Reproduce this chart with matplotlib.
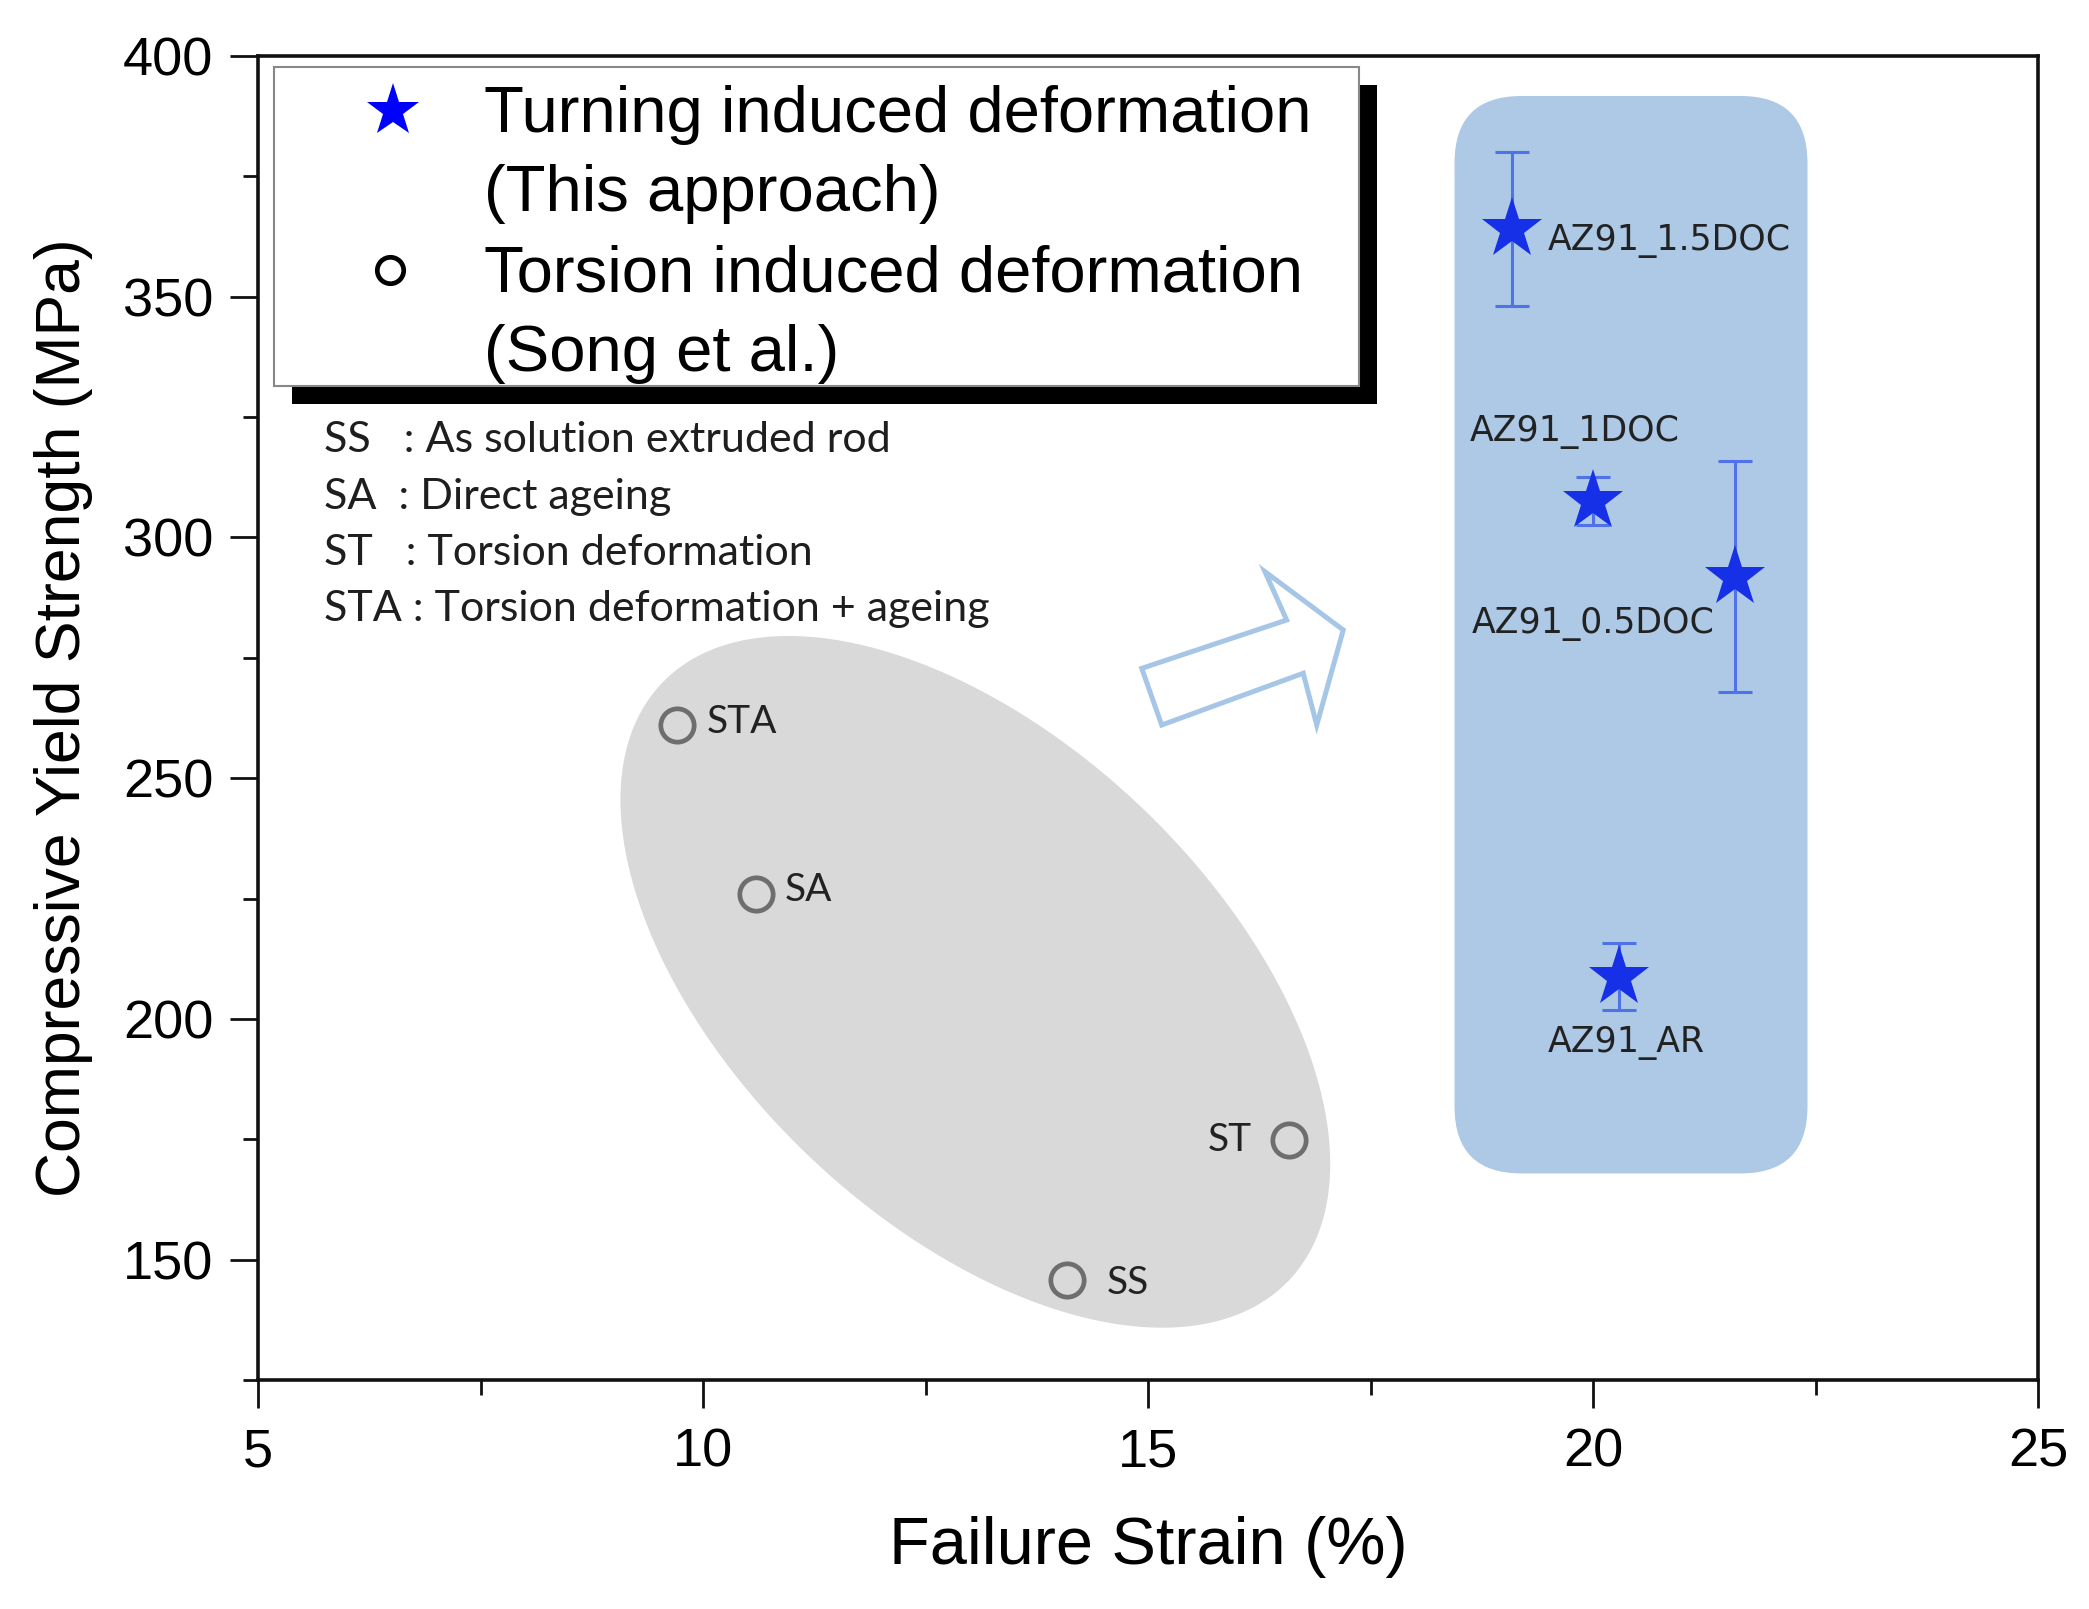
import numpy as np
import matplotlib
matplotlib.use("Agg")
import matplotlib.pyplot as plt
from matplotlib.patches import Polygon, Rectangle, FancyBboxPatch

# ---------------- data ----------------
turn_labels = ["AZ91_1.5DOC", "AZ91_1DOC", "AZ91_0.5DOC", "AZ91_AR"]
turn_strain = [19.09, 20.00, 21.59, 20.29]
turn_ys = [364.0, 307.6, 291.8, 208.8]
turn_err = [16.0, 5.0, 24.0, 7.0]
turn_label_xy = [(19.49, 361.6), (18.61, 322.0), (18.64, 282.1), (19.49, 195.0)]

tor_labels = ["STA", "SA", "ST", "SS"]
tor_strain = [9.71, 10.59, 16.58, 14.09]
tor_ys = [261.0, 225.9, 174.9, 145.8]
tor_label_xy = [(10.04, 261.7), (10.92, 226.8), (16.17, 174.8), (14.54, 145.1)]
tor_label_ha = ["left", "left", "right", "left"]

xticks = [5, 10, 15, 20, 25]
yticks = [150, 200, 250, 300, 350, 400]

legend_lines = ["Turning induced deformation", "(This approach)",
                "Torsion induced deformation", "(Song et al.)"]
key_lines = ["SS   : As solution extruded rod", "SA  : Direct ageing",
             "ST   : Torsion deformation", "STA : Torsion deformation + ageing"]

# ---------------- figure ----------------
W, H = 2089, 1609
fig = plt.figure(figsize=(W / 100, H / 100), dpi=100)
ax_l, ax_r, ax_t, ax_b = 258, 2038, 56, 1380
ax = fig.add_axes([ax_l / W, 1 - ax_b / H, (ax_r - ax_l) / W, (ax_b - ax_t) / H])
xmin, xmax, ymin, ymax = 5, 25, 125, 400
ax.set_xlim(xmin, xmax)
ax.set_ylim(ymin, ymax)

pxx = (ax_r - ax_l) / (xmax - xmin)   # px per x unit
pxy = (ax_b - ax_t) / (ymax - ymin)   # px per y unit

sans = ["Liberation Sans", "DejaVu Sans"]
lato = ["Lato", "DejaVu Sans"]

# gray ellipse (defined in pixel offsets around a data center)
cx, cy = 13.06, 207.7
a, b, ang = 433, 241, np.deg2rad(-43.6)
t = np.linspace(0, 2 * np.pi, 300)
ex = a * np.cos(t) * np.cos(ang) - b * np.sin(t) * np.sin(ang)
ey = a * np.cos(t) * np.sin(ang) + b * np.sin(t) * np.cos(ang)
ell = Polygon(np.column_stack([cx + ex / pxx, cy + ey / pxy]), closed=True,
              facecolor="#d9d9d9", edgecolor="none", zorder=1)
ax.add_patch(ell)

# blue rounded region (axes fraction)
bx0, bx1, by0, by1 = 0.6722, 0.8705, 0.156, 0.9698
rs = 67 / (ax_r - ax_l)
masp = (ax_r - ax_l) / (ax_b - ax_t)
box = FancyBboxPatch((bx0, by0), bx1 - bx0, by1 - by0,
                     boxstyle=f"round,pad=0,rounding_size={rs}",
                     mutation_aspect=masp, transform=ax.transAxes,
                     facecolor="#adc9e5", edgecolor="none", zorder=1)
ax.add_patch(box)

# hollow block arrow (axes fraction)
arrow_pts = [(0.4965, 0.5375), (0.5779, 0.5740), (0.5657, 0.6105), (0.6097, 0.5665),
             (0.5948, 0.4947), (0.5872, 0.5338), (0.5077, 0.4947)]
arr = Polygon(arrow_pts, closed=True, transform=ax.transAxes, facecolor="white",
              edgecolor="#a6c6e8", linewidth=3.6, joinstyle="miter", zorder=2)
ax.add_patch(arr)

# torsion points
ax.plot(tor_strain, tor_ys, linestyle="none", marker="o", markersize=24,
        markerfacecolor="none", markeredgecolor="#6e6e6e", markeredgewidth=3.4, zorder=4)
for lab, (lx, ly), ha in zip(tor_labels, tor_label_xy, tor_label_ha):
    ax.text(lx, ly, lab, ha=ha, va="center", fontsize=28, family=lato,
            color="#222222", zorder=5)

# turning points with error bars
ax.errorbar(turn_strain, turn_ys, yerr=turn_err, fmt="none", ecolor="#4f72e8",
            elinewidth=2.2, capsize=12, capthick=2.2, zorder=4)
ax.plot(turn_strain, turn_ys, linestyle="none", marker="*", markersize=46,
        color="#1530e6", markeredgewidth=0, zorder=5)
for lab, (lx, ly) in zip(turn_labels, turn_label_xy):
    ax.text(lx, ly, lab, ha="left", va="center", fontsize=25, family="DejaVu Sans",
            color="#222222", zorder=6)

# key text
for yy, line in zip([0.7103, 0.6671, 0.6248, 0.5826], key_lines):
    ax.text(0.0369, yy, line, transform=ax.transAxes, ha="left", va="center",
            fontsize=31, family=lato, color="#1e1e1e", zorder=6)

# legend box with hard black shadow
lx0, lx1, ly0, ly1 = 0.009, 0.6185, 0.7508, 0.9917
sdx, sdy = 18 / (ax_r - ax_l), 18 / (ax_b - ax_t)
ax.add_patch(Rectangle((lx0 + sdx, ly0 - sdy), lx1 - lx0, ly1 - ly0, transform=ax.transAxes,
                       facecolor="black", edgecolor="none", zorder=7, clip_on=False))
ax.add_patch(Rectangle((lx0, ly0), lx1 - lx0, ly1 - ly0, transform=ax.transAxes,
                       facecolor="white", edgecolor="#888888", linewidth=1.5, zorder=8,
                       clip_on=False))
ax.plot([0.0758], [0.9588], transform=ax.transAxes, marker="*", markersize=40,
        color="#0000ff", markeredgewidth=0, linestyle="none", zorder=9, clip_on=False)
ax.plot([0.0742], [0.8381], transform=ax.transAxes, marker="o", markersize=19,
        markerfacecolor="none", markeredgecolor="black", markeredgewidth=3.4,
        linestyle="none", zorder=9, clip_on=False)
for yy, line in zip([0.9588, 0.8984, 0.8381, 0.7777], legend_lines):
    ax.text(0.1267, yy - 0.003, line, transform=ax.transAxes, ha="left", va="center",
            fontsize=47, family=sans, color="black", zorder=9)

# axes styling
for s in ax.spines.values():
    s.set_linewidth(2.6)
    s.set_color("#111111")
ax.set_xticks(xticks)
ax.set_yticks(yticks)
ax.set_xticks(np.arange(7.5, 25, 5), minor=True)
ax.set_yticks(np.arange(125, 400, 50), minor=True)
ax.tick_params(axis="both", which="major", direction="out", length=20, width=2.0,
               labelsize=39, color="#111111")
ax.tick_params(axis="both", which="minor", direction="out", length=11, width=2.0,
               color="#111111")
ax.tick_params(axis="x", which="major", pad=14)
ax.tick_params(axis="y", which="major", pad=12)
for lab in ax.get_xticklabels() + ax.get_yticklabels():
    lab.set_family(sans)

ax.set_xlabel("Failure Strain (%)", fontsize=48, family=sans, labelpad=28)
ax.set_ylabel("Compressive Yield Strength (MPa)", fontsize=45, family=sans, labelpad=22)

fig.savefig("out.png", dpi=100)
